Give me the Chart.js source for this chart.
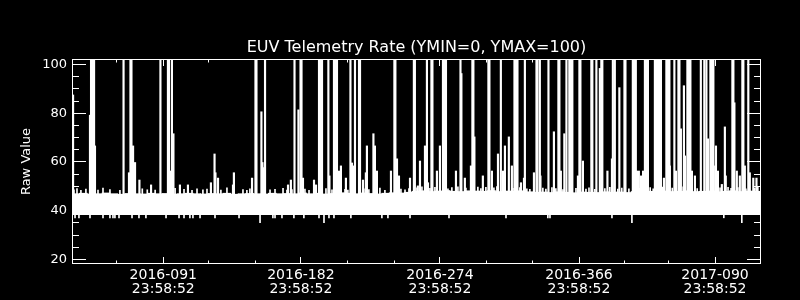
<!DOCTYPE html>
<html>
<head>
<meta charset="utf-8">
<script src="https://cdn.jsdelivr.net/npm/chart.js@4/dist/chart.umd.min.js"></script>
<style>
  html, body { margin: 0; background: #000; }
  #wrap { width: 800px; height: 300px; }
</style>
</head>
<body>
<div id="wrap"><canvas id="euvChart"></canvas></div>
<script>
// days counted from 2016-001 00:00
const titleText = 'EUV Telemetry Rate (YMIN=0, YMAX=100)';
const xTickDays = [91, 182, 274, 366, 456];
const xTickDates = ['2016-091', '2016-182', '2016-274', '2016-366', '2017-090'];
const xTickTime = '23:58:52';
const xMinorDays = [60, 121, 152, 213, 244, 305, 335, 396, 425];
const yTicks = [20, 40, 60, 80, 100];
const yMinor = [25, 30, 35, 45, 50, 55, 65, 70, 75, 85, 90, 95];

// dense band of normal readings, max per 5-day bin
const bandStart = 30.6;
const bandBinDays = 5;
const bandFloor = 38.4;
const bandTop = [
  47.0, 47.2, 46.9, 47.0, 47.3, 47.0, 46.8, 47.1, 47.0, 46.9, 47.2, 47.0, 47.1, 46.9, 47.0,
  47.2, 47.0, 46.9, 47.1, 47.0, 47.2, 46.8, 47.0, 47.1, 47.0, 46.9, 47.2, 47.0, 47.1, 47.0,
  47.3, 47.0, 47.2, 46.9, 47.1, 47.4, 47.2, 47.0, 47.3, 47.1, 46.9, 47.2, 47.4, 47.3, 47.6,
  48.0, 48.2, 47.9, 48.1, 48.3, 48.0, 47.9, 48.2, 48.1, 48.0, 48.3, 47.9, 48.1, 48.0, 48.2, 47.8,
  47.6, 47.7, 47.5, 47.8, 47.6, 47.4, 47.7, 47.6, 47.5, 47.8, 47.6, 47.7, 47.5, 47.9, 47.7,
  48.0, 47.8, 48.1, 47.9, 48.0, 48.2, 47.9, 48.0, 48.1, 47.8, 48.0, 48.2, 47.9, 48.1, 48.0
];

// spikes going off the top of the plot
const spikeBase = 46.5;
const spikePeak = 105;
const tallThin = [64.7, 89.1, 96.7, 158.3, 177.8, 200.2, 214.8, 217.8, 265.4, 287.6, 314.3, 330.2,
  340.1, 345.8, 357.7, 377.5, 388.4, 389.7, 429.1, 446.6, 448.9, 450.3, 478.0];
const tallMedium = [69.6, 94.4, 152.3, 182.1, 220.8, 244.2, 257.1, 268.7, 295.8, 306.4, 338.2, 352.7,
  366.6, 374.5, 381.1, 396.4, 432.1, 467.8, 474.4];
const tallWide = [44.2, 195.0, 204.9, 277.0, 324.3, 360.6, 402.6, 410.6, 417.2, 419.2, 424.8, 438.7, 453.9];

// spikes that stay inside the plot
const midDays = [31.3, 42.5, 45.8, 68.3, 71.0, 72.3, 75.2, 82.9, 95.7, 97.7, 102.0, 107.3, 122.5, 124.9,
  125.5, 127.2, 137.1, 137.7, 149.7, 155.9, 156.6, 157.3, 157.9, 173.5, 175.4, 180.4, 183.4, 190.7,
  192.0, 200.9, 207.2, 208.5, 211.8, 215.8, 217.1, 223.1, 225.0, 225.7, 230.0, 231.0, 232.3, 241.6,
  245.6, 246.9, 254.2, 259.4, 260.8, 264.1, 266.1, 272.0, 274.0, 284.6, 288.2, 290.5, 294.5, 296.8,
  302.4, 308.4, 312.4, 315.7, 317.0, 319.6, 321.6, 327.6, 329.6, 336.2, 340.5, 349.4, 354.0, 356.3,
  365.3, 368.6, 379.8, 384.8, 387.8, 392.7, 404.3, 405.6, 407.0, 408.4, 422.2, 426.1, 430.1, 433.4,
  435.4, 436.1, 440.7, 442.7, 451.3, 455.2, 456.6, 457.9, 460.5, 462.5, 463.1, 468.8, 470.4, 472.4,
  475.7, 479.0, 481.3, 483.4];
const midVals = [87.5, 79.2, 66.6, 55.6, 66.6, 59.8, 52.6, 50.6, 56.3, 71.6, 50.6, 50.6, 51.5, 63.3,
  55.6, 53.4, 50.6, 55.6, 53.4, 80.6, 59.8, 57.7, 54.3, 50.6, 52.6, 81.4, 53.4, 52.6,
  50.6, 54.3, 56.3, 58.4, 53.4, 59.6, 58.4, 52.6, 55.6, 66.6, 71.6, 66.6, 56.3, 56.3,
  61.3, 54.3, 53.4, 50.2, 60.4, 66.6, 51.5, 56.3, 66.6, 56.3, 96.3, 53.4, 58.4, 70.3,
  54.3, 56.3, 63.3, 56.3, 66.6, 70.3, 58.4, 51.5, 53.4, 55.6, 54.3, 72.4, 56.3, 71.6,
  54.3, 60.4, 98.4, 56.3, 61.3, 90.5, 56.3, 56.3, 54.3, 56.3, 53.4, 58.4, 56.3, 73.6,
  91.3, 62.5, 56.3, 54.3, 69.5, 58.4, 66.6, 56.3, 50.8, 74.4, 54.3, 84.3, 56.3, 54.3,
  58.4, 55.6, 53.4, 53.4];

// small hairs on top of the band
const hairDays = [31.9, 33.9, 36.5, 39.8, 47.8, 51.1, 55.7, 62.3, 77.1, 80.4, 85.6, 98.8, 104.7, 110.0,
  113.3, 117.2, 119.9, 129.1, 133.1, 143.7, 146.3, 148.3, 161.6, 164.9, 170.2, 172.8, 176.1, 184.7,
  187.4, 198.6, 202.6, 211.2, 213.1, 223.7, 227.0, 234.3, 237.6, 248.2, 250.9, 253.5, 258.8, 262.1,
  267.4, 270.7, 279.3, 281.9, 285.9, 291.2, 299.1, 301.1, 304.4, 309.7, 311.7, 322.3, 326.9, 331.5,
  333.5, 342.1, 344.1, 348.1, 350.7, 355.4, 364.0, 370.6, 372.6, 376.5, 383.1, 386.4, 391.7, 394.3,
  399.0, 406.3, 413.1, 415.1, 421.1, 427.7, 434.9, 444.2, 459.3, 464.6, 466.6, 471.1, 476.4, 482.3, 484.3];
const hairVals = [48.6, 49.1, 48.4, 48.9, 48.5, 49.3, 48.7, 48.4, 49.0, 48.6,
  48.5, 49.2, 48.8, 48.4, 49.0, 48.6, 48.9, 48.5, 49.4, 48.7,
  48.4, 49.0, 48.6, 48.8, 49.2, 48.5, 48.7, 48.9, 48.4, 49.1,
  48.6, 48.8, 48.5, 49.0, 48.7, 49.3, 48.4, 48.9, 48.6, 49.1,
  49.4, 49.8, 49.2, 49.6, 49.0, 49.5, 49.8, 49.3, 49.7, 49.1,
  49.6, 49.4, 49.9, 49.2, 49.5, 49.0, 48.8, 49.3, 48.9, 49.5,
  49.1, 48.7, 49.2, 48.9, 49.4, 48.8, 49.1, 49.6, 48.9, 49.3,
  49.0, 49.2, 49.5, 49.0, 49.7, 49.3, 49.8, 49.1, 49.4, 49.6,
  49.2, 49.5, 49.0, 49.3, 49.6];

// low readings poking under the band
const dipDays = [32.6, 35.2, 42.5, 51.1, 55.7, 57.7, 59.0, 61.7, 70.3, 74.9, 79.5, 92.8, 101.4, 104.7,
  108.6, 110.6, 115.3, 125.2, 141.1, 155.0, 163.5, 164.9, 169.5, 177.4, 184.0, 194.0, 197.3, 200.6,
  203.9, 215.1, 235.6, 239.6, 254.2, 280.0, 317.7, 345.4, 346.8, 387.8, 401.0, 461.8, 473.7];
const dipVals = [37.1, 37.1, 37.1, 37.1, 37.1, 37.1, 37.1, 37.1, 37.1, 37.1, 37.1, 37.1, 37.1, 37.1,
  37.1, 37.1, 37.1, 37.1, 37.1, 35.1, 37.1, 37.1, 37.1, 37.1, 37.1, 37.1, 35.1, 37.1,
  37.1, 37.1, 37.1, 37.1, 37.1, 37.1, 37.1, 37.1, 37.1, 37.1, 35.1, 37.1, 35.1];

const FONT = 'DejaVu Sans';

function bars(data, thickness) {
  return {
    data: data,
    backgroundColor: '#fff',
    borderWidth: 0,
    barThickness: thickness,
    grouped: false
  };
}

const bandData = bandTop.map((hi, i) => ({ x: bandStart + bandBinDays * (i + 0.5), y: [bandFloor, hi] }));
const tallData = list => list.map(d => ({ x: d, y: [spikeBase, spikePeak] }));
const midData = midDays.map((d, i) => ({ x: d, y: [spikeBase, midVals[i]] }));
const hairData = hairDays.map((d, i) => ({ x: d, y: [spikeBase, hairVals[i]] }));
const dipData = dipDays.map((d, i) => ({ x: d, y: [dipVals[i], bandFloor + 0.3] }));

// black page, white box with inward IDL-style ticks on all four sides
const framePlugin = {
  id: 'frame',
  beforeDraw(chart) {
    const ctx = chart.ctx;
    ctx.save();
    ctx.fillStyle = '#000';
    ctx.fillRect(0, 0, chart.width, chart.height);
    ctx.restore();
  },
  afterDraw(chart) {
    const { ctx, chartArea: { left, right, top, bottom }, scales: { x, y } } = chart;
    ctx.save();
    ctx.strokeStyle = '#fff';
    ctx.lineWidth = 1;
    ctx.strokeRect(left + 0.5, top + 0.5, right - left - 1, bottom - top - 1);
    ctx.beginPath();
    const yTick = (v, len) => {
      const py = Math.floor(y.getPixelForValue(v)) + 0.5;
      ctx.moveTo(left, py); ctx.lineTo(left + len, py);
      ctx.moveTo(right, py); ctx.lineTo(right - len, py);
    };
    const xTick = (v, len) => {
      const px = Math.floor(x.getPixelForValue(v)) + 0.5;
      ctx.moveTo(px, bottom); ctx.lineTo(px, bottom - len);
      ctx.moveTo(px, top); ctx.lineTo(px, top + len);
    };
    yTicks.forEach(v => yTick(v, 14));
    yMinor.forEach(v => yTick(v, 7));
    xTickDays.forEach(v => xTick(v, 7));
    xMinorDays.forEach(v => xTick(v, 3.5));
    ctx.stroke();
    ctx.restore();
  }
};

new Chart(document.getElementById('euvChart'), {
  type: 'bar',
  data: {
    datasets: [
      bars(tallData(tallWide), 4.5),
      bars(tallData(tallMedium), 2.5),
      bars(tallData(tallThin), 1.5),
      bars(midData, 1.5),
      bars(hairData, 1),
      bars(dipData, 1),
      bars(bandData, 8)
    ]
  },
  options: {
    responsive: true,
    maintainAspectRatio: false,
    animation: false,
    layout: { padding: { left: 0, right: 39, top: 0, bottom: 0 } },
    plugins: {
      legend: { display: false },
      tooltip: { enabled: false },
      title: {
        display: true,
        fullSize: false,
        text: titleText,
        color: '#fff',
        font: { family: FONT, size: 16, weight: 'normal', lineHeight: 1.2 },
        padding: { top: 38, bottom: 1.8 }
      }
    },
    scales: {
      x: {
        type: 'linear',
        offset: false,
        min: 30.6,
        max: 486.4,
        grid: { display: false, drawTicks: false },
        border: { display: false },
        afterFit: s => { s.height = 36; },
        afterBuildTicks: s => { s.ticks = xTickDays.map(v => ({ value: v })); },
        ticks: {
          autoSkip: false,
          maxRotation: 0,
          color: '#fff',
          padding: 5,
          font: { family: FONT, size: 14, lineHeight: 0.95 },
          callback: v => {
            const i = xTickDays.indexOf(v);
            return i < 0 ? '' : [xTickDates[i], xTickTime];
          }
        }
      },
      y: {
        min: 18.15,
        max: 102.26,
        grid: { display: false, drawTicks: false },
        border: { display: false },
        afterFit: s => { s.width = 72; },
        afterBuildTicks: s => { s.ticks = yTicks.map(v => ({ value: v })); },
        ticks: {
          color: '#fff',
          padding: 5,
          font: { family: FONT, size: 13 },
          callback: v => String(v)
        },
        title: {
          display: true,
          text: 'Raw Value',
          color: '#fff',
          font: { family: FONT, size: 13, lineHeight: 1.2 },
          padding: { top: 19, bottom: 0 }
        }
      }
    }
  },
  plugins: [framePlugin]
});
</script>
</body>
</html>
